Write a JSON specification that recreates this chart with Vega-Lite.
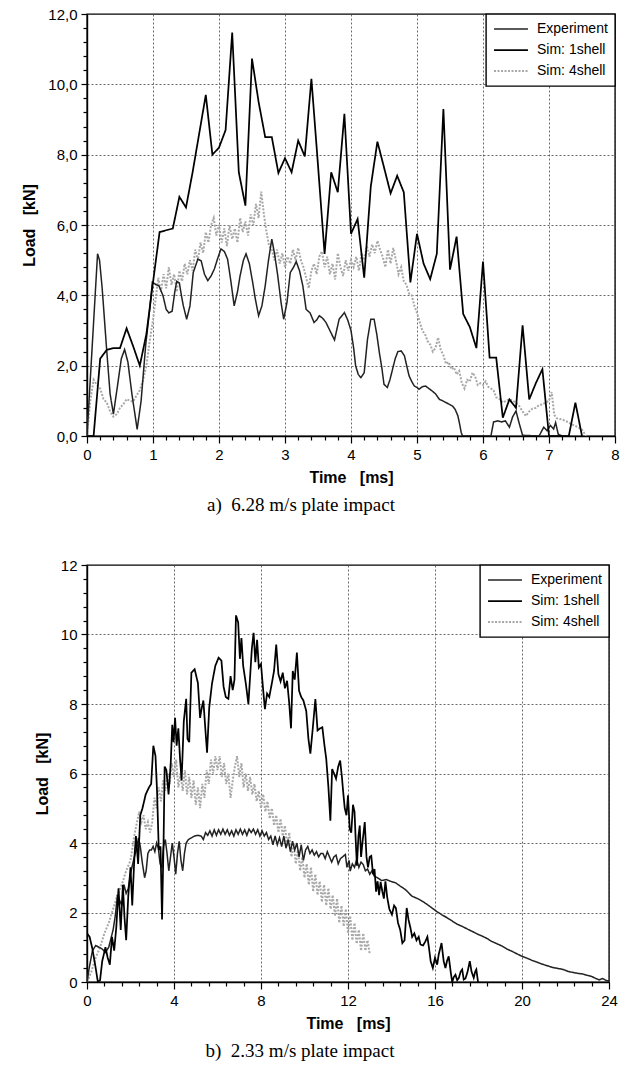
{
"$schema": "https://vega.github.io/schema/vega-lite/v6.json",
"padding": {"left": 21, "top": 6, "right": 4, "bottom": 4},
"spacing": 41,
"config": {
 "view": {"stroke": "#000", "strokeWidth": 1.4},
 "font": "Liberation Sans",
 "axis": {"domainColor": "#000", "domainWidth": 1.4, "tickColor": "#000", "tickWidth": 1.2, "labelFont": "Liberation Sans", "labelFontSize": 15, "labelColor": "#000", "titleFont": "Liberation Sans", "titleFontSize": 16, "titleFontWeight": "bold", "titleColor": "#000", "gridColor": "#444", "gridDash": [2, 2], "gridWidth": 0.8, "labelOverlap": false, "labelFlush": false, "labelBound": false},
 "legend": {"strokeColor": "#000", "strokeWidth": 1.4, "fillColor": "#fff", "padding": 7, "symbolType": "stroke", "symbolSize": 1150, "labelFontSize": 14, "labelFont": "Liberation Sans", "labelColor": "#000", "labelOffset": 8, "rowPadding": 5, "clipHeight": 16, "orient": "top-right", "offset": 0, "title": null}
},
"datasets": {
"top": [
{"s":"Sim: 4shell","t":0,"v":0},{"s":"Sim: 4shell","t":0.05,"v":1.0},{"s":"Sim: 4shell","t":0.1,"v":1.6},{"s":"Sim: 4shell","t":0.15,"v":1.45},{"s":"Sim: 4shell","t":0.2,"v":1.35},{"s":"Sim: 4shell","t":0.25,"v":1.05},{"s":"Sim: 4shell","t":0.3,"v":0.95},{"s":"Sim: 4shell","t":0.35,"v":0.7},{"s":"Sim: 4shell","t":0.4,"v":0.55},{"s":"Sim: 4shell","t":0.45,"v":0.62},{"s":"Sim: 4shell","t":0.5,"v":0.8},{"s":"Sim: 4shell","t":0.55,"v":0.9},{"s":"Sim: 4shell","t":0.6,"v":1.05},{"s":"Sim: 4shell","t":0.65,"v":1.0},{"s":"Sim: 4shell","t":0.7,"v":0.98},{"s":"Sim: 4shell","t":0.75,"v":1.15},{"s":"Sim: 4shell","t":0.8,"v":1.3},{"s":"Sim: 4shell","t":0.85,"v":1.6},{"s":"Sim: 4shell","t":0.9,"v":2.0},{"s":"Sim: 4shell","t":0.95,"v":2.7},{"s":"Sim: 4shell","t":1.0,"v":3.3},{"s":"Sim: 4shell","t":1.04,"v":3.9},{"s":"Sim: 4shell","t":1.08,"v":4.5},{"s":"Sim: 4shell","t":1.12,"v":4.1},{"s":"Sim: 4shell","t":1.16,"v":4.6},{"s":"Sim: 4shell","t":1.2,"v":4.2},{"s":"Sim: 4shell","t":1.24,"v":4.8},{"s":"Sim: 4shell","t":1.28,"v":4.3},{"s":"Sim: 4shell","t":1.32,"v":4.6},{"s":"Sim: 4shell","t":1.36,"v":4.1},{"s":"Sim: 4shell","t":1.4,"v":4.7},{"s":"Sim: 4shell","t":1.44,"v":4.4},{"s":"Sim: 4shell","t":1.48,"v":4.9},{"s":"Sim: 4shell","t":1.52,"v":4.6},{"s":"Sim: 4shell","t":1.56,"v":5.0},{"s":"Sim: 4shell","t":1.6,"v":4.7},{"s":"Sim: 4shell","t":1.64,"v":5.3},{"s":"Sim: 4shell","t":1.68,"v":5.0},{"s":"Sim: 4shell","t":1.72,"v":5.5},{"s":"Sim: 4shell","t":1.76,"v":5.2},{"s":"Sim: 4shell","t":1.8,"v":5.8},{"s":"Sim: 4shell","t":1.84,"v":5.5},{"s":"Sim: 4shell","t":1.88,"v":6.0},{"s":"Sim: 4shell","t":1.92,"v":6.2},{"s":"Sim: 4shell","t":1.96,"v":5.7},{"s":"Sim: 4shell","t":2.0,"v":6.0},{"s":"Sim: 4shell","t":2.04,"v":5.5},{"s":"Sim: 4shell","t":2.08,"v":5.9},{"s":"Sim: 4shell","t":2.12,"v":5.4},{"s":"Sim: 4shell","t":2.16,"v":6.0},{"s":"Sim: 4shell","t":2.2,"v":5.6},{"s":"Sim: 4shell","t":2.24,"v":5.9},{"s":"Sim: 4shell","t":2.28,"v":5.5},{"s":"Sim: 4shell","t":2.32,"v":6.2},{"s":"Sim: 4shell","t":2.36,"v":5.8},{"s":"Sim: 4shell","t":2.4,"v":6.1},{"s":"Sim: 4shell","t":2.44,"v":5.7},{"s":"Sim: 4shell","t":2.48,"v":6.3},{"s":"Sim: 4shell","t":2.52,"v":6.0},{"s":"Sim: 4shell","t":2.56,"v":6.6},{"s":"Sim: 4shell","t":2.6,"v":6.2},{"s":"Sim: 4shell","t":2.64,"v":6.95},{"s":"Sim: 4shell","t":2.68,"v":6.3},{"s":"Sim: 4shell","t":2.72,"v":5.8},{"s":"Sim: 4shell","t":2.76,"v":5.4},{"s":"Sim: 4shell","t":2.8,"v":5.3},{"s":"Sim: 4shell","t":2.84,"v":5.0},{"s":"Sim: 4shell","t":2.88,"v":5.3},{"s":"Sim: 4shell","t":2.92,"v":4.9},{"s":"Sim: 4shell","t":2.96,"v":5.2},{"s":"Sim: 4shell","t":3.0,"v":4.8},{"s":"Sim: 4shell","t":3.04,"v":5.1},{"s":"Sim: 4shell","t":3.08,"v":4.9},{"s":"Sim: 4shell","t":3.12,"v":5.3},{"s":"Sim: 4shell","t":3.16,"v":5.0},{"s":"Sim: 4shell","t":3.2,"v":5.35},{"s":"Sim: 4shell","t":3.24,"v":5.0},{"s":"Sim: 4shell","t":3.28,"v":4.8},{"s":"Sim: 4shell","t":3.32,"v":4.5},{"s":"Sim: 4shell","t":3.36,"v":4.2},{"s":"Sim: 4shell","t":3.4,"v":4.7},{"s":"Sim: 4shell","t":3.44,"v":4.9},{"s":"Sim: 4shell","t":3.48,"v":4.6},{"s":"Sim: 4shell","t":3.52,"v":5.1},{"s":"Sim: 4shell","t":3.56,"v":5.25},{"s":"Sim: 4shell","t":3.6,"v":4.8},{"s":"Sim: 4shell","t":3.64,"v":5.1},{"s":"Sim: 4shell","t":3.68,"v":4.6},{"s":"Sim: 4shell","t":3.72,"v":4.9},{"s":"Sim: 4shell","t":3.76,"v":4.45},{"s":"Sim: 4shell","t":3.8,"v":5.2},{"s":"Sim: 4shell","t":3.84,"v":4.8},{"s":"Sim: 4shell","t":3.88,"v":4.55},{"s":"Sim: 4shell","t":3.92,"v":5.0},{"s":"Sim: 4shell","t":3.96,"v":4.7},{"s":"Sim: 4shell","t":4.0,"v":5.0},{"s":"Sim: 4shell","t":4.04,"v":4.8},{"s":"Sim: 4shell","t":4.08,"v":5.1},{"s":"Sim: 4shell","t":4.12,"v":4.7},{"s":"Sim: 4shell","t":4.16,"v":5.2},{"s":"Sim: 4shell","t":4.2,"v":5.0},{"s":"Sim: 4shell","t":4.24,"v":5.4},{"s":"Sim: 4shell","t":4.28,"v":5.1},{"s":"Sim: 4shell","t":4.32,"v":5.45},{"s":"Sim: 4shell","t":4.36,"v":5.2},{"s":"Sim: 4shell","t":4.4,"v":5.55},{"s":"Sim: 4shell","t":4.44,"v":5.3},{"s":"Sim: 4shell","t":4.48,"v":5.1},{"s":"Sim: 4shell","t":4.52,"v":4.8},{"s":"Sim: 4shell","t":4.56,"v":5.3},{"s":"Sim: 4shell","t":4.6,"v":4.9},{"s":"Sim: 4shell","t":4.64,"v":5.35},{"s":"Sim: 4shell","t":4.68,"v":5.0},{"s":"Sim: 4shell","t":4.72,"v":4.6},{"s":"Sim: 4shell","t":4.76,"v":4.8},{"s":"Sim: 4shell","t":4.8,"v":4.4},{"s":"Sim: 4shell","t":4.84,"v":4.3},{"s":"Sim: 4shell","t":4.88,"v":4.05},{"s":"Sim: 4shell","t":4.92,"v":4.0},{"s":"Sim: 4shell","t":4.96,"v":3.7},{"s":"Sim: 4shell","t":5.0,"v":3.5},{"s":"Sim: 4shell","t":5.04,"v":3.25},{"s":"Sim: 4shell","t":5.08,"v":3.0},{"s":"Sim: 4shell","t":5.12,"v":2.9},{"s":"Sim: 4shell","t":5.16,"v":2.7},{"s":"Sim: 4shell","t":5.2,"v":2.6},{"s":"Sim: 4shell","t":5.24,"v":2.4},{"s":"Sim: 4shell","t":5.28,"v":2.5},{"s":"Sim: 4shell","t":5.32,"v":2.8},{"s":"Sim: 4shell","t":5.36,"v":2.45},{"s":"Sim: 4shell","t":5.4,"v":2.3},{"s":"Sim: 4shell","t":5.44,"v":2.05},{"s":"Sim: 4shell","t":5.48,"v":2.1},{"s":"Sim: 4shell","t":5.52,"v":1.9},{"s":"Sim: 4shell","t":5.56,"v":1.95},{"s":"Sim: 4shell","t":5.6,"v":1.75},{"s":"Sim: 4shell","t":5.64,"v":1.85},{"s":"Sim: 4shell","t":5.68,"v":1.5},{"s":"Sim: 4shell","t":5.72,"v":1.35},{"s":"Sim: 4shell","t":5.76,"v":1.6},{"s":"Sim: 4shell","t":5.8,"v":1.55},{"s":"Sim: 4shell","t":5.84,"v":1.8},{"s":"Sim: 4shell","t":5.88,"v":1.7},{"s":"Sim: 4shell","t":5.92,"v":1.45},{"s":"Sim: 4shell","t":5.96,"v":1.5},{"s":"Sim: 4shell","t":6.0,"v":1.45},{"s":"Sim: 4shell","t":6.04,"v":1.55},{"s":"Sim: 4shell","t":6.08,"v":1.4},{"s":"Sim: 4shell","t":6.12,"v":1.35},{"s":"Sim: 4shell","t":6.16,"v":1.3},{"s":"Sim: 4shell","t":6.2,"v":1.1},{"s":"Sim: 4shell","t":6.25,"v":1.05},{"s":"Sim: 4shell","t":6.3,"v":0.95},{"s":"Sim: 4shell","t":6.35,"v":1.0},{"s":"Sim: 4shell","t":6.4,"v":1.05},{"s":"Sim: 4shell","t":6.45,"v":1.0},{"s":"Sim: 4shell","t":6.5,"v":0.95},{"s":"Sim: 4shell","t":6.55,"v":0.85},{"s":"Sim: 4shell","t":6.6,"v":0.7},{"s":"Sim: 4shell","t":6.65,"v":0.57},{"s":"Sim: 4shell","t":6.7,"v":0.7},{"s":"Sim: 4shell","t":6.75,"v":0.78},{"s":"Sim: 4shell","t":6.8,"v":0.8},{"s":"Sim: 4shell","t":6.85,"v":0.88},{"s":"Sim: 4shell","t":6.9,"v":0.9},{"s":"Sim: 4shell","t":6.95,"v":0.95},{"s":"Sim: 4shell","t":7.0,"v":1.0},{"s":"Sim: 4shell","t":7.04,"v":1.25},{"s":"Sim: 4shell","t":7.08,"v":0.6},{"s":"Sim: 4shell","t":7.12,"v":0.5},{"s":"Sim: 4shell","t":7.2,"v":0.47},{"s":"Sim: 4shell","t":7.28,"v":0.4},{"s":"Sim: 4shell","t":7.36,"v":0.32},{"s":"Sim: 4shell","t":7.44,"v":0.25},{"s":"Sim: 4shell","t":7.5,"v":0.18},{"s":"Sim: 4shell","t":7.56,"v":0},
{"s":"Experiment","t":0,"v":0},{"s":"Experiment","t":0.16,"v":5.18},{"s":"Experiment","t":0.19,"v":5.0},{"s":"Experiment","t":0.23,"v":4.2},{"s":"Experiment","t":0.3,"v":2.4},{"s":"Experiment","t":0.35,"v":1.2},{"s":"Experiment","t":0.4,"v":0.62},{"s":"Experiment","t":0.46,"v":1.4},{"s":"Experiment","t":0.52,"v":2.2},{"s":"Experiment","t":0.57,"v":2.46},{"s":"Experiment","t":0.62,"v":2.1},{"s":"Experiment","t":0.68,"v":1.2},{"s":"Experiment","t":0.76,"v":0.19},{"s":"Experiment","t":0.82,"v":1.0},{"s":"Experiment","t":0.89,"v":2.6},{"s":"Experiment","t":0.95,"v":3.6},{"s":"Experiment","t":0.99,"v":4.37},{"s":"Experiment","t":1.05,"v":4.3},{"s":"Experiment","t":1.09,"v":4.27},{"s":"Experiment","t":1.15,"v":4.0},{"s":"Experiment","t":1.2,"v":3.6},{"s":"Experiment","t":1.24,"v":3.5},{"s":"Experiment","t":1.29,"v":3.55},{"s":"Experiment","t":1.33,"v":4.1},{"s":"Experiment","t":1.36,"v":4.4},{"s":"Experiment","t":1.4,"v":4.35},{"s":"Experiment","t":1.43,"v":4.0},{"s":"Experiment","t":1.46,"v":3.7},{"s":"Experiment","t":1.51,"v":3.32},{"s":"Experiment","t":1.56,"v":3.7},{"s":"Experiment","t":1.61,"v":4.65},{"s":"Experiment","t":1.68,"v":5.03},{"s":"Experiment","t":1.73,"v":4.98},{"s":"Experiment","t":1.78,"v":4.6},{"s":"Experiment","t":1.83,"v":4.42},{"s":"Experiment","t":1.88,"v":4.55},{"s":"Experiment","t":1.93,"v":4.75},{"s":"Experiment","t":1.98,"v":5.05},{"s":"Experiment","t":2.03,"v":5.32},{"s":"Experiment","t":2.08,"v":5.25},{"s":"Experiment","t":2.13,"v":5.03},{"s":"Experiment","t":2.18,"v":4.4},{"s":"Experiment","t":2.23,"v":3.7},{"s":"Experiment","t":2.28,"v":4.1},{"s":"Experiment","t":2.32,"v":4.56},{"s":"Experiment","t":2.37,"v":5.0},{"s":"Experiment","t":2.41,"v":5.18},{"s":"Experiment","t":2.46,"v":4.9},{"s":"Experiment","t":2.51,"v":4.37},{"s":"Experiment","t":2.55,"v":3.9},{"s":"Experiment","t":2.6,"v":3.42},{"s":"Experiment","t":2.65,"v":3.7},{"s":"Experiment","t":2.7,"v":4.27},{"s":"Experiment","t":2.75,"v":5.0},{"s":"Experiment","t":2.8,"v":5.6},{"s":"Experiment","t":2.84,"v":5.2},{"s":"Experiment","t":2.89,"v":4.56},{"s":"Experiment","t":2.94,"v":3.8},{"s":"Experiment","t":2.98,"v":3.32},{"s":"Experiment","t":3.03,"v":3.8},{"s":"Experiment","t":3.08,"v":4.65},{"s":"Experiment","t":3.13,"v":4.8},{"s":"Experiment","t":3.17,"v":4.96},{"s":"Experiment","t":3.22,"v":4.7},{"s":"Experiment","t":3.27,"v":4.27},{"s":"Experiment","t":3.32,"v":3.6},{"s":"Experiment","t":3.38,"v":3.5},{"s":"Experiment","t":3.44,"v":3.23},{"s":"Experiment","t":3.48,"v":3.3},{"s":"Experiment","t":3.52,"v":3.42},{"s":"Experiment","t":3.57,"v":3.35},{"s":"Experiment","t":3.62,"v":3.23},{"s":"Experiment","t":3.68,"v":3.0},{"s":"Experiment","t":3.75,"v":2.73},{"s":"Experiment","t":3.82,"v":3.32},{"s":"Experiment","t":3.9,"v":3.51},{"s":"Experiment","t":3.95,"v":3.3},{"s":"Experiment","t":4.0,"v":3.0},{"s":"Experiment","t":4.04,"v":2.5},{"s":"Experiment","t":4.07,"v":2.0},{"s":"Experiment","t":4.11,"v":1.75},{"s":"Experiment","t":4.15,"v":1.66},{"s":"Experiment","t":4.2,"v":1.8},{"s":"Experiment","t":4.25,"v":2.75},{"s":"Experiment","t":4.3,"v":3.32},{"s":"Experiment","t":4.35,"v":3.32},{"s":"Experiment","t":4.39,"v":2.9},{"s":"Experiment","t":4.43,"v":2.37},{"s":"Experiment","t":4.47,"v":1.9},{"s":"Experiment","t":4.5,"v":1.47},{"s":"Experiment","t":4.55,"v":1.38},{"s":"Experiment","t":4.59,"v":1.6},{"s":"Experiment","t":4.63,"v":1.9},{"s":"Experiment","t":4.67,"v":2.2},{"s":"Experiment","t":4.71,"v":2.4},{"s":"Experiment","t":4.76,"v":2.42},{"s":"Experiment","t":4.81,"v":2.28},{"s":"Experiment","t":4.85,"v":1.95},{"s":"Experiment","t":4.88,"v":1.71},{"s":"Experiment","t":4.92,"v":1.55},{"s":"Experiment","t":4.96,"v":1.42},{"s":"Experiment","t":5.0,"v":1.38},{"s":"Experiment","t":5.03,"v":1.33},{"s":"Experiment","t":5.08,"v":1.4},{"s":"Experiment","t":5.13,"v":1.42},{"s":"Experiment","t":5.18,"v":1.35},{"s":"Experiment","t":5.23,"v":1.28},{"s":"Experiment","t":5.28,"v":1.2},{"s":"Experiment","t":5.34,"v":1.04},{"s":"Experiment","t":5.39,"v":1.0},{"s":"Experiment","t":5.44,"v":0.95},{"s":"Experiment","t":5.49,"v":0.9},{"s":"Experiment","t":5.54,"v":0.85},{"s":"Experiment","t":5.58,"v":0.75},{"s":"Experiment","t":5.62,"v":0.57},{"s":"Experiment","t":5.65,"v":0.3},{"s":"Experiment","t":5.67,"v":0.1},{"s":"Experiment","t":5.69,"v":0},{"s":"Experiment","t":6.12,"v":0},{"s":"Experiment","t":6.16,"v":0.4},{"s":"Experiment","t":6.22,"v":0.43},{"s":"Experiment","t":6.28,"v":0.4},{"s":"Experiment","t":6.34,"v":0.43},{"s":"Experiment","t":6.4,"v":0.25},{"s":"Experiment","t":6.45,"v":0.55},{"s":"Experiment","t":6.5,"v":0.71},{"s":"Experiment","t":6.55,"v":0.35},{"s":"Experiment","t":6.6,"v":0.02},{"s":"Experiment","t":6.85,"v":0},{"s":"Experiment","t":6.92,"v":0.25},{"s":"Experiment","t":6.97,"v":0.15},{"s":"Experiment","t":7.02,"v":0.3},{"s":"Experiment","t":7.07,"v":0.2},{"s":"Experiment","t":7.1,"v":0.38},{"s":"Experiment","t":7.14,"v":0.05},{"s":"Experiment","t":7.2,"v":0},
{"s":"Sim: 1shell","t":0,"v":0},{"s":"Sim: 1shell","t":0.1,"v":0},{"s":"Sim: 1shell","t":0.2,"v":2.2},{"s":"Sim: 1shell","t":0.3,"v":2.45},{"s":"Sim: 1shell","t":0.4,"v":2.5},{"s":"Sim: 1shell","t":0.5,"v":2.5},{"s":"Sim: 1shell","t":0.6,"v":3.06},{"s":"Sim: 1shell","t":0.7,"v":2.55},{"s":"Sim: 1shell","t":0.8,"v":2.0},{"s":"Sim: 1shell","t":0.9,"v":2.9},{"s":"Sim: 1shell","t":1.0,"v":4.37},{"s":"Sim: 1shell","t":1.1,"v":5.8},{"s":"Sim: 1shell","t":1.2,"v":5.85},{"s":"Sim: 1shell","t":1.3,"v":5.9},{"s":"Sim: 1shell","t":1.4,"v":6.8},{"s":"Sim: 1shell","t":1.5,"v":6.5},{"s":"Sim: 1shell","t":1.6,"v":7.5},{"s":"Sim: 1shell","t":1.7,"v":8.6},{"s":"Sim: 1shell","t":1.8,"v":9.7},{"s":"Sim: 1shell","t":1.9,"v":8.0},{"s":"Sim: 1shell","t":2.0,"v":8.2},{"s":"Sim: 1shell","t":2.1,"v":8.7},{"s":"Sim: 1shell","t":2.2,"v":11.47},{"s":"Sim: 1shell","t":2.3,"v":7.5},{"s":"Sim: 1shell","t":2.4,"v":6.55},{"s":"Sim: 1shell","t":2.5,"v":10.73},{"s":"Sim: 1shell","t":2.6,"v":9.5},{"s":"Sim: 1shell","t":2.7,"v":8.5},{"s":"Sim: 1shell","t":2.8,"v":8.5},{"s":"Sim: 1shell","t":2.9,"v":7.48},{"s":"Sim: 1shell","t":3.0,"v":7.9},{"s":"Sim: 1shell","t":3.1,"v":7.5},{"s":"Sim: 1shell","t":3.2,"v":8.4},{"s":"Sim: 1shell","t":3.3,"v":7.95},{"s":"Sim: 1shell","t":3.4,"v":10.16},{"s":"Sim: 1shell","t":3.5,"v":7.7},{"s":"Sim: 1shell","t":3.6,"v":5.18},{"s":"Sim: 1shell","t":3.7,"v":7.5},{"s":"Sim: 1shell","t":3.8,"v":6.93},{"s":"Sim: 1shell","t":3.9,"v":9.16},{"s":"Sim: 1shell","t":4.0,"v":5.75},{"s":"Sim: 1shell","t":4.1,"v":6.17},{"s":"Sim: 1shell","t":4.2,"v":4.5},{"s":"Sim: 1shell","t":4.3,"v":7.1},{"s":"Sim: 1shell","t":4.4,"v":8.37},{"s":"Sim: 1shell","t":4.5,"v":7.64},{"s":"Sim: 1shell","t":4.6,"v":6.9},{"s":"Sim: 1shell","t":4.7,"v":7.4},{"s":"Sim: 1shell","t":4.8,"v":6.93},{"s":"Sim: 1shell","t":4.9,"v":4.37},{"s":"Sim: 1shell","t":5.0,"v":5.75},{"s":"Sim: 1shell","t":5.1,"v":4.9},{"s":"Sim: 1shell","t":5.2,"v":4.46},{"s":"Sim: 1shell","t":5.3,"v":5.18},{"s":"Sim: 1shell","t":5.4,"v":9.3},{"s":"Sim: 1shell","t":5.5,"v":4.73},{"s":"Sim: 1shell","t":5.6,"v":5.67},{"s":"Sim: 1shell","t":5.7,"v":3.47},{"s":"Sim: 1shell","t":5.8,"v":3.1},{"s":"Sim: 1shell","t":5.9,"v":2.5},{"s":"Sim: 1shell","t":6.0,"v":4.96},{"s":"Sim: 1shell","t":6.1,"v":2.23},{"s":"Sim: 1shell","t":6.2,"v":2.23},{"s":"Sim: 1shell","t":6.3,"v":0.52},{"s":"Sim: 1shell","t":6.4,"v":1.04},{"s":"Sim: 1shell","t":6.5,"v":0.8},{"s":"Sim: 1shell","t":6.6,"v":3.15},{"s":"Sim: 1shell","t":6.7,"v":1.04},{"s":"Sim: 1shell","t":6.8,"v":1.5},{"s":"Sim: 1shell","t":6.9,"v":1.9},{"s":"Sim: 1shell","t":7.0,"v":0},{"s":"Sim: 1shell","t":7.3,"v":0},{"s":"Sim: 1shell","t":7.4,"v":0.95},{"s":"Sim: 1shell","t":7.5,"v":0}
],
"bot": [
{"s":"Sim: 4shell","t":0,"v":0},{"s":"Sim: 4shell","t":0.2,"v":0.3},{"s":"Sim: 4shell","t":0.4,"v":0.7},{"s":"Sim: 4shell","t":0.6,"v":1.0},{"s":"Sim: 4shell","t":0.8,"v":1.4},{"s":"Sim: 4shell","t":1.0,"v":1.7},{"s":"Sim: 4shell","t":1.2,"v":2.1},{"s":"Sim: 4shell","t":1.4,"v":2.5},{"s":"Sim: 4shell","t":1.6,"v":2.8},{"s":"Sim: 4shell","t":1.8,"v":3.2},{"s":"Sim: 4shell","t":2.0,"v":3.5},{"s":"Sim: 4shell","t":2.1,"v":3.9},{"s":"Sim: 4shell","t":2.2,"v":4.3},{"s":"Sim: 4shell","t":2.3,"v":4.6},{"s":"Sim: 4shell","t":2.4,"v":4.9},{"s":"Sim: 4shell","t":2.5,"v":4.6},{"s":"Sim: 4shell","t":2.6,"v":4.8},{"s":"Sim: 4shell","t":2.7,"v":4.4},{"s":"Sim: 4shell","t":2.8,"v":4.6},{"s":"Sim: 4shell","t":2.9,"v":4.3},{"s":"Sim: 4shell","t":3.0,"v":4.6},{"s":"Sim: 4shell","t":3.1,"v":5.3},{"s":"Sim: 4shell","t":3.2,"v":5.0},{"s":"Sim: 4shell","t":3.3,"v":5.6},{"s":"Sim: 4shell","t":3.4,"v":5.2},{"s":"Sim: 4shell","t":3.5,"v":5.8},{"s":"Sim: 4shell","t":3.6,"v":5.5},{"s":"Sim: 4shell","t":3.7,"v":6.0},{"s":"Sim: 4shell","t":3.8,"v":5.7},{"s":"Sim: 4shell","t":3.9,"v":6.3},{"s":"Sim: 4shell","t":4.0,"v":5.9},{"s":"Sim: 4shell","t":4.1,"v":6.4},{"s":"Sim: 4shell","t":4.2,"v":5.6},{"s":"Sim: 4shell","t":4.3,"v":6.0},{"s":"Sim: 4shell","t":4.4,"v":5.5},{"s":"Sim: 4shell","t":4.5,"v":6.1},{"s":"Sim: 4shell","t":4.6,"v":5.4},{"s":"Sim: 4shell","t":4.7,"v":5.9},{"s":"Sim: 4shell","t":4.8,"v":5.3},{"s":"Sim: 4shell","t":4.9,"v":5.8},{"s":"Sim: 4shell","t":5.0,"v":5.1},{"s":"Sim: 4shell","t":5.1,"v":5.6},{"s":"Sim: 4shell","t":5.2,"v":5.0},{"s":"Sim: 4shell","t":5.3,"v":5.7},{"s":"Sim: 4shell","t":5.4,"v":5.3},{"s":"Sim: 4shell","t":5.5,"v":6.1},{"s":"Sim: 4shell","t":5.6,"v":5.7},{"s":"Sim: 4shell","t":5.7,"v":6.4},{"s":"Sim: 4shell","t":5.8,"v":6.0},{"s":"Sim: 4shell","t":5.9,"v":6.5},{"s":"Sim: 4shell","t":6.0,"v":6.1},{"s":"Sim: 4shell","t":6.1,"v":6.5},{"s":"Sim: 4shell","t":6.2,"v":5.9},{"s":"Sim: 4shell","t":6.3,"v":6.3},{"s":"Sim: 4shell","t":6.4,"v":5.7},{"s":"Sim: 4shell","t":6.5,"v":6.0},{"s":"Sim: 4shell","t":6.6,"v":5.3},{"s":"Sim: 4shell","t":6.7,"v":5.8},{"s":"Sim: 4shell","t":6.8,"v":6.2},{"s":"Sim: 4shell","t":6.9,"v":6.5},{"s":"Sim: 4shell","t":7.0,"v":5.9},{"s":"Sim: 4shell","t":7.1,"v":6.3},{"s":"Sim: 4shell","t":7.2,"v":5.6},{"s":"Sim: 4shell","t":7.3,"v":6.0},{"s":"Sim: 4shell","t":7.4,"v":5.5},{"s":"Sim: 4shell","t":7.5,"v":5.9},{"s":"Sim: 4shell","t":7.6,"v":5.4},{"s":"Sim: 4shell","t":7.7,"v":5.7},{"s":"Sim: 4shell","t":7.8,"v":5.2},{"s":"Sim: 4shell","t":7.9,"v":5.5},{"s":"Sim: 4shell","t":8.0,"v":5.0},{"s":"Sim: 4shell","t":8.1,"v":5.4},{"s":"Sim: 4shell","t":8.2,"v":4.9},{"s":"Sim: 4shell","t":8.3,"v":5.2},{"s":"Sim: 4shell","t":8.4,"v":4.7},{"s":"Sim: 4shell","t":8.5,"v":5.0},{"s":"Sim: 4shell","t":8.6,"v":4.5},{"s":"Sim: 4shell","t":8.7,"v":4.8},{"s":"Sim: 4shell","t":8.8,"v":4.3},{"s":"Sim: 4shell","t":8.9,"v":4.7},{"s":"Sim: 4shell","t":9.0,"v":4.2},{"s":"Sim: 4shell","t":9.1,"v":4.5},{"s":"Sim: 4shell","t":9.2,"v":3.9},{"s":"Sim: 4shell","t":9.3,"v":4.3},{"s":"Sim: 4shell","t":9.4,"v":3.6},{"s":"Sim: 4shell","t":9.5,"v":4.0},{"s":"Sim: 4shell","t":9.6,"v":3.4},{"s":"Sim: 4shell","t":9.7,"v":3.8},{"s":"Sim: 4shell","t":9.8,"v":3.2},{"s":"Sim: 4shell","t":9.9,"v":3.6},{"s":"Sim: 4shell","t":10.0,"v":3.0},{"s":"Sim: 4shell","t":10.1,"v":3.4},{"s":"Sim: 4shell","t":10.2,"v":2.8},{"s":"Sim: 4shell","t":10.3,"v":3.3},{"s":"Sim: 4shell","t":10.4,"v":2.6},{"s":"Sim: 4shell","t":10.5,"v":3.1},{"s":"Sim: 4shell","t":10.6,"v":2.5},{"s":"Sim: 4shell","t":10.7,"v":2.9},{"s":"Sim: 4shell","t":10.8,"v":2.3},{"s":"Sim: 4shell","t":10.9,"v":2.8},{"s":"Sim: 4shell","t":11.0,"v":2.2},{"s":"Sim: 4shell","t":11.1,"v":2.7},{"s":"Sim: 4shell","t":11.2,"v":2.1},{"s":"Sim: 4shell","t":11.3,"v":2.5},{"s":"Sim: 4shell","t":11.4,"v":1.9},{"s":"Sim: 4shell","t":11.5,"v":2.4},{"s":"Sim: 4shell","t":11.6,"v":1.7},{"s":"Sim: 4shell","t":11.7,"v":2.2},{"s":"Sim: 4shell","t":11.8,"v":1.6},{"s":"Sim: 4shell","t":11.9,"v":2.1},{"s":"Sim: 4shell","t":12.0,"v":1.4},{"s":"Sim: 4shell","t":12.1,"v":1.9},{"s":"Sim: 4shell","t":12.2,"v":1.2},{"s":"Sim: 4shell","t":12.3,"v":1.7},{"s":"Sim: 4shell","t":12.4,"v":1.1},{"s":"Sim: 4shell","t":12.5,"v":1.5},{"s":"Sim: 4shell","t":12.6,"v":0.9},{"s":"Sim: 4shell","t":12.7,"v":1.4},{"s":"Sim: 4shell","t":12.8,"v":0.9},{"s":"Sim: 4shell","t":12.9,"v":1.2},{"s":"Sim: 4shell","t":13.0,"v":0.8},
{"s":"Experiment","t":0,"v":0},{"s":"Experiment","t":0.1,"v":0.4},{"s":"Experiment","t":0.25,"v":0.9},{"s":"Experiment","t":0.4,"v":1.05},{"s":"Experiment","t":0.55,"v":1.0},{"s":"Experiment","t":0.7,"v":0.95},{"s":"Experiment","t":0.85,"v":0.85},{"s":"Experiment","t":1.0,"v":1.0},{"s":"Experiment","t":1.1,"v":1.25},{"s":"Experiment","t":1.2,"v":1.5},{"s":"Experiment","t":1.3,"v":1.9},{"s":"Experiment","t":1.4,"v":2.5},{"s":"Experiment","t":1.5,"v":2.35},{"s":"Experiment","t":1.6,"v":2.2},{"s":"Experiment","t":1.7,"v":2.8},{"s":"Experiment","t":1.8,"v":2.55},{"s":"Experiment","t":1.9,"v":2.7},{"s":"Experiment","t":2.0,"v":3.1},{"s":"Experiment","t":2.1,"v":3.4},{"s":"Experiment","t":2.2,"v":3.65},{"s":"Experiment","t":2.3,"v":3.9},{"s":"Experiment","t":2.37,"v":4.15},{"s":"Experiment","t":2.45,"v":3.9},{"s":"Experiment","t":2.55,"v":3.4},{"s":"Experiment","t":2.65,"v":3.0},{"s":"Experiment","t":2.72,"v":3.2},{"s":"Experiment","t":2.8,"v":3.7},{"s":"Experiment","t":2.88,"v":3.8},{"s":"Experiment","t":2.96,"v":3.8},{"s":"Experiment","t":3.04,"v":3.9},{"s":"Experiment","t":3.12,"v":3.75},{"s":"Experiment","t":3.2,"v":4.0},{"s":"Experiment","t":3.28,"v":3.85},{"s":"Experiment","t":3.36,"v":3.4},{"s":"Experiment","t":3.44,"v":3.3},{"s":"Experiment","t":3.52,"v":3.9},{"s":"Experiment","t":3.6,"v":4.1},{"s":"Experiment","t":3.68,"v":3.7},{"s":"Experiment","t":3.76,"v":3.2},{"s":"Experiment","t":3.84,"v":3.6},{"s":"Experiment","t":3.92,"v":4.0},{"s":"Experiment","t":4.0,"v":3.6},{"s":"Experiment","t":4.08,"v":3.1},{"s":"Experiment","t":4.16,"v":3.7},{"s":"Experiment","t":4.24,"v":4.05},{"s":"Experiment","t":4.32,"v":3.5},{"s":"Experiment","t":4.4,"v":3.2},{"s":"Experiment","t":4.48,"v":3.7},{"s":"Experiment","t":4.56,"v":4.0},{"s":"Experiment","t":4.66,"v":4.1},{"s":"Experiment","t":4.8,"v":4.15},{"s":"Experiment","t":4.95,"v":4.2},{"s":"Experiment","t":5.1,"v":4.22},{"s":"Experiment","t":5.25,"v":4.2},{"s":"Experiment","t":5.35,"v":4.1},{"s":"Experiment","t":5.45,"v":4.3},{"s":"Experiment","t":5.55,"v":4.22},{"s":"Experiment","t":5.65,"v":4.35},{"s":"Experiment","t":5.75,"v":4.2},{"s":"Experiment","t":5.85,"v":4.38},{"s":"Experiment","t":5.95,"v":4.22},{"s":"Experiment","t":6.05,"v":4.38},{"s":"Experiment","t":6.15,"v":4.25},{"s":"Experiment","t":6.25,"v":4.4},{"s":"Experiment","t":6.35,"v":4.25},{"s":"Experiment","t":6.45,"v":4.38},{"s":"Experiment","t":6.55,"v":4.22},{"s":"Experiment","t":6.65,"v":4.35},{"s":"Experiment","t":6.75,"v":4.2},{"s":"Experiment","t":6.85,"v":4.38},{"s":"Experiment","t":6.95,"v":4.25},{"s":"Experiment","t":7.05,"v":4.4},{"s":"Experiment","t":7.15,"v":4.25},{"s":"Experiment","t":7.25,"v":4.38},{"s":"Experiment","t":7.35,"v":4.22},{"s":"Experiment","t":7.45,"v":4.4},{"s":"Experiment","t":7.55,"v":4.3},{"s":"Experiment","t":7.65,"v":4.4},{"s":"Experiment","t":7.75,"v":4.25},{"s":"Experiment","t":7.85,"v":4.38},{"s":"Experiment","t":7.95,"v":4.2},{"s":"Experiment","t":8.05,"v":4.35},{"s":"Experiment","t":8.15,"v":4.2},{"s":"Experiment","t":8.25,"v":4.3},{"s":"Experiment","t":8.35,"v":4.1},{"s":"Experiment","t":8.45,"v":4.2},{"s":"Experiment","t":8.55,"v":3.95},{"s":"Experiment","t":8.65,"v":4.2},{"s":"Experiment","t":8.75,"v":3.95},{"s":"Experiment","t":8.85,"v":4.15},{"s":"Experiment","t":8.95,"v":3.9},{"s":"Experiment","t":9.05,"v":4.2},{"s":"Experiment","t":9.15,"v":3.85},{"s":"Experiment","t":9.25,"v":4.1},{"s":"Experiment","t":9.35,"v":3.75},{"s":"Experiment","t":9.45,"v":4.05},{"s":"Experiment","t":9.55,"v":3.8},{"s":"Experiment","t":9.65,"v":4.0},{"s":"Experiment","t":9.75,"v":3.6},{"s":"Experiment","t":9.85,"v":3.95},{"s":"Experiment","t":9.95,"v":3.5},{"s":"Experiment","t":10.05,"v":3.8},{"s":"Experiment","t":10.15,"v":3.9},{"s":"Experiment","t":10.25,"v":3.7},{"s":"Experiment","t":10.35,"v":3.8},{"s":"Experiment","t":10.45,"v":3.65},{"s":"Experiment","t":10.55,"v":3.75},{"s":"Experiment","t":10.65,"v":3.6},{"s":"Experiment","t":10.75,"v":3.7},{"s":"Experiment","t":10.85,"v":3.7},{"s":"Experiment","t":10.95,"v":3.55},{"s":"Experiment","t":11.05,"v":3.75},{"s":"Experiment","t":11.15,"v":3.6},{"s":"Experiment","t":11.25,"v":3.45},{"s":"Experiment","t":11.35,"v":3.6},{"s":"Experiment","t":11.45,"v":3.65},{"s":"Experiment","t":11.55,"v":3.4},{"s":"Experiment","t":11.65,"v":3.55},{"s":"Experiment","t":11.75,"v":3.6},{"s":"Experiment","t":11.88,"v":3.67},{"s":"Experiment","t":11.95,"v":3.3},{"s":"Experiment","t":12.05,"v":3.5},{"s":"Experiment","t":12.1,"v":3.19},{"s":"Experiment","t":12.2,"v":3.4},{"s":"Experiment","t":12.3,"v":3.3},{"s":"Experiment","t":12.4,"v":3.53},{"s":"Experiment","t":12.5,"v":3.3},{"s":"Experiment","t":12.6,"v":3.45},{"s":"Experiment","t":12.7,"v":3.38},{"s":"Experiment","t":12.8,"v":3.2},{"s":"Experiment","t":12.9,"v":3.25},{"s":"Experiment","t":13.0,"v":3.1},{"s":"Experiment","t":13.1,"v":3.2},{"s":"Experiment","t":13.2,"v":3.05},{"s":"Experiment","t":13.35,"v":3.0},{"s":"Experiment","t":13.55,"v":2.92},{"s":"Experiment","t":13.75,"v":2.95},{"s":"Experiment","t":13.95,"v":2.9},{"s":"Experiment","t":14.2,"v":2.85},{"s":"Experiment","t":14.4,"v":2.76},{"s":"Experiment","t":14.64,"v":2.66},{"s":"Experiment","t":14.94,"v":2.47},{"s":"Experiment","t":15.2,"v":2.4},{"s":"Experiment","t":15.4,"v":2.33},{"s":"Experiment","t":15.6,"v":2.25},{"s":"Experiment","t":15.86,"v":2.13},{"s":"Experiment","t":16.1,"v":2.02},{"s":"Experiment","t":16.3,"v":1.94},{"s":"Experiment","t":16.55,"v":1.85},{"s":"Experiment","t":16.8,"v":1.75},{"s":"Experiment","t":17.0,"v":1.67},{"s":"Experiment","t":17.25,"v":1.6},{"s":"Experiment","t":17.5,"v":1.52},{"s":"Experiment","t":17.7,"v":1.46},{"s":"Experiment","t":17.95,"v":1.38},{"s":"Experiment","t":18.17,"v":1.32},{"s":"Experiment","t":18.4,"v":1.25},{"s":"Experiment","t":18.6,"v":1.17},{"s":"Experiment","t":18.85,"v":1.1},{"s":"Experiment","t":19.1,"v":1.03},{"s":"Experiment","t":19.3,"v":0.95},{"s":"Experiment","t":19.55,"v":0.88},{"s":"Experiment","t":19.8,"v":0.8},{"s":"Experiment","t":20.0,"v":0.74},{"s":"Experiment","t":20.25,"v":0.68},{"s":"Experiment","t":20.47,"v":0.62},{"s":"Experiment","t":20.7,"v":0.57},{"s":"Experiment","t":20.9,"v":0.52},{"s":"Experiment","t":21.15,"v":0.47},{"s":"Experiment","t":21.4,"v":0.42},{"s":"Experiment","t":21.65,"v":0.39},{"s":"Experiment","t":21.9,"v":0.36},{"s":"Experiment","t":22.1,"v":0.31},{"s":"Experiment","t":22.3,"v":0.28},{"s":"Experiment","t":22.55,"v":0.25},{"s":"Experiment","t":22.8,"v":0.23},{"s":"Experiment","t":23.0,"v":0.19},{"s":"Experiment","t":23.2,"v":0.16},{"s":"Experiment","t":23.4,"v":0.1},{"s":"Experiment","t":23.55,"v":0.06},{"s":"Experiment","t":23.7,"v":0.1},{"s":"Experiment","t":23.85,"v":0.05},{"s":"Experiment","t":24.0,"v":0.03},
{"s":"Sim: 1shell","t":0,"v":1.4},{"s":"Sim: 1shell","t":0.12,"v":1.3},{"s":"Sim: 1shell","t":0.25,"v":0.95},{"s":"Sim: 1shell","t":0.4,"v":0.4},{"s":"Sim: 1shell","t":0.5,"v":0},{"s":"Sim: 1shell","t":0.6,"v":0.05},{"s":"Sim: 1shell","t":0.7,"v":0.6},{"s":"Sim: 1shell","t":0.85,"v":1.0},{"s":"Sim: 1shell","t":0.95,"v":0.7},{"s":"Sim: 1shell","t":1.05,"v":0.5},{"s":"Sim: 1shell","t":1.15,"v":1.3},{"s":"Sim: 1shell","t":1.25,"v":0.9},{"s":"Sim: 1shell","t":1.35,"v":1.6},{"s":"Sim: 1shell","t":1.45,"v":2.7},{"s":"Sim: 1shell","t":1.55,"v":1.5},{"s":"Sim: 1shell","t":1.65,"v":2.8},{"s":"Sim: 1shell","t":1.72,"v":1.9},{"s":"Sim: 1shell","t":1.8,"v":1.2},{"s":"Sim: 1shell","t":1.9,"v":2.5},{"s":"Sim: 1shell","t":2.0,"v":3.3},{"s":"Sim: 1shell","t":2.08,"v":2.2},{"s":"Sim: 1shell","t":2.18,"v":3.6},{"s":"Sim: 1shell","t":2.25,"v":4.2},{"s":"Sim: 1shell","t":2.35,"v":3.4},{"s":"Sim: 1shell","t":2.45,"v":4.8},{"s":"Sim: 1shell","t":2.55,"v":5.0},{"s":"Sim: 1shell","t":2.7,"v":5.4},{"s":"Sim: 1shell","t":2.85,"v":5.6},{"s":"Sim: 1shell","t":2.95,"v":5.7},{"s":"Sim: 1shell","t":3.05,"v":6.8},{"s":"Sim: 1shell","t":3.15,"v":6.5},{"s":"Sim: 1shell","t":3.22,"v":5.5},{"s":"Sim: 1shell","t":3.3,"v":3.8},{"s":"Sim: 1shell","t":3.38,"v":3.9},{"s":"Sim: 1shell","t":3.45,"v":1.8},{"s":"Sim: 1shell","t":3.52,"v":4.0},{"s":"Sim: 1shell","t":3.57,"v":6.2},{"s":"Sim: 1shell","t":3.65,"v":6.1},{"s":"Sim: 1shell","t":3.75,"v":5.4},{"s":"Sim: 1shell","t":3.85,"v":6.3},{"s":"Sim: 1shell","t":3.92,"v":7.4},{"s":"Sim: 1shell","t":3.98,"v":6.9},{"s":"Sim: 1shell","t":4.05,"v":7.6},{"s":"Sim: 1shell","t":4.12,"v":6.8},{"s":"Sim: 1shell","t":4.2,"v":7.3},{"s":"Sim: 1shell","t":4.28,"v":6.4},{"s":"Sim: 1shell","t":4.35,"v":5.8},{"s":"Sim: 1shell","t":4.45,"v":7.5},{"s":"Sim: 1shell","t":4.56,"v":8.15},{"s":"Sim: 1shell","t":4.62,"v":7.0},{"s":"Sim: 1shell","t":4.7,"v":6.9},{"s":"Sim: 1shell","t":4.8,"v":8.9},{"s":"Sim: 1shell","t":4.95,"v":9.0},{"s":"Sim: 1shell","t":5.1,"v":8.6},{"s":"Sim: 1shell","t":5.2,"v":7.6},{"s":"Sim: 1shell","t":5.28,"v":7.9},{"s":"Sim: 1shell","t":5.35,"v":8.1},{"s":"Sim: 1shell","t":5.45,"v":7.2},{"s":"Sim: 1shell","t":5.52,"v":6.6},{"s":"Sim: 1shell","t":5.62,"v":7.9},{"s":"Sim: 1shell","t":5.75,"v":8.6},{"s":"Sim: 1shell","t":5.9,"v":9.1},{"s":"Sim: 1shell","t":6.05,"v":9.33},{"s":"Sim: 1shell","t":6.18,"v":9.25},{"s":"Sim: 1shell","t":6.28,"v":8.5},{"s":"Sim: 1shell","t":6.38,"v":8.2},{"s":"Sim: 1shell","t":6.5,"v":8.15},{"s":"Sim: 1shell","t":6.6,"v":8.8},{"s":"Sim: 1shell","t":6.7,"v":8.4},{"s":"Sim: 1shell","t":6.78,"v":8.7},{"s":"Sim: 1shell","t":6.85,"v":10.55},{"s":"Sim: 1shell","t":6.95,"v":10.35},{"s":"Sim: 1shell","t":7.03,"v":9.3},{"s":"Sim: 1shell","t":7.1,"v":9.9},{"s":"Sim: 1shell","t":7.18,"v":9.1},{"s":"Sim: 1shell","t":7.3,"v":8.6},{"s":"Sim: 1shell","t":7.42,"v":8.0},{"s":"Sim: 1shell","t":7.5,"v":8.8},{"s":"Sim: 1shell","t":7.58,"v":9.6},{"s":"Sim: 1shell","t":7.66,"v":10.05},{"s":"Sim: 1shell","t":7.74,"v":9.2},{"s":"Sim: 1shell","t":7.82,"v":9.85},{"s":"Sim: 1shell","t":7.9,"v":9.05},{"s":"Sim: 1shell","t":8.0,"v":9.15},{"s":"Sim: 1shell","t":8.1,"v":8.4},{"s":"Sim: 1shell","t":8.18,"v":7.85},{"s":"Sim: 1shell","t":8.28,"v":8.3},{"s":"Sim: 1shell","t":8.38,"v":8.2},{"s":"Sim: 1shell","t":8.5,"v":8.6},{"s":"Sim: 1shell","t":8.6,"v":8.95},{"s":"Sim: 1shell","t":8.7,"v":9.71},{"s":"Sim: 1shell","t":8.8,"v":8.86},{"s":"Sim: 1shell","t":8.9,"v":8.65},{"s":"Sim: 1shell","t":9.0,"v":8.9},{"s":"Sim: 1shell","t":9.1,"v":8.45},{"s":"Sim: 1shell","t":9.2,"v":8.67},{"s":"Sim: 1shell","t":9.3,"v":8.0},{"s":"Sim: 1shell","t":9.38,"v":7.3},{"s":"Sim: 1shell","t":9.46,"v":8.95},{"s":"Sim: 1shell","t":9.55,"v":8.7},{"s":"Sim: 1shell","t":9.65,"v":9.48},{"s":"Sim: 1shell","t":9.75,"v":8.38},{"s":"Sim: 1shell","t":9.85,"v":8.2},{"s":"Sim: 1shell","t":9.95,"v":8.1},{"s":"Sim: 1shell","t":10.08,"v":7.8},{"s":"Sim: 1shell","t":10.18,"v":7.0},{"s":"Sim: 1shell","t":10.27,"v":6.57},{"s":"Sim: 1shell","t":10.38,"v":7.3},{"s":"Sim: 1shell","t":10.5,"v":8.14},{"s":"Sim: 1shell","t":10.6,"v":7.24},{"s":"Sim: 1shell","t":10.72,"v":7.3},{"s":"Sim: 1shell","t":10.82,"v":7.33},{"s":"Sim: 1shell","t":10.92,"v":6.8},{"s":"Sim: 1shell","t":11.0,"v":6.42},{"s":"Sim: 1shell","t":11.1,"v":5.6},{"s":"Sim: 1shell","t":11.19,"v":4.64},{"s":"Sim: 1shell","t":11.27,"v":6.13},{"s":"Sim: 1shell","t":11.36,"v":6.0},{"s":"Sim: 1shell","t":11.45,"v":5.85},{"s":"Sim: 1shell","t":11.55,"v":6.2},{"s":"Sim: 1shell","t":11.64,"v":6.37},{"s":"Sim: 1shell","t":11.72,"v":5.9},{"s":"Sim: 1shell","t":11.78,"v":5.46},{"s":"Sim: 1shell","t":11.85,"v":5.0},{"s":"Sim: 1shell","t":11.93,"v":4.8},{"s":"Sim: 1shell","t":12.0,"v":5.37},{"s":"Sim: 1shell","t":12.08,"v":4.4},{"s":"Sim: 1shell","t":12.15,"v":4.3},{"s":"Sim: 1shell","t":12.23,"v":5.1},{"s":"Sim: 1shell","t":12.3,"v":4.9},{"s":"Sim: 1shell","t":12.36,"v":4.0},{"s":"Sim: 1shell","t":12.41,"v":3.35},{"s":"Sim: 1shell","t":12.48,"v":4.2},{"s":"Sim: 1shell","t":12.54,"v":4.5},{"s":"Sim: 1shell","t":12.6,"v":3.6},{"s":"Sim: 1shell","t":12.68,"v":4.1},{"s":"Sim: 1shell","t":12.77,"v":4.6},{"s":"Sim: 1shell","t":12.85,"v":3.6},{"s":"Sim: 1shell","t":12.92,"v":3.3},{"s":"Sim: 1shell","t":13.0,"v":3.6},{"s":"Sim: 1shell","t":13.07,"v":3.63},{"s":"Sim: 1shell","t":13.15,"v":3.1},{"s":"Sim: 1shell","t":13.22,"v":3.25},{"s":"Sim: 1shell","t":13.29,"v":2.6},{"s":"Sim: 1shell","t":13.36,"v":2.9},{"s":"Sim: 1shell","t":13.43,"v":2.5},{"s":"Sim: 1shell","t":13.5,"v":2.88},{"s":"Sim: 1shell","t":13.58,"v":2.6},{"s":"Sim: 1shell","t":13.65,"v":2.4},{"s":"Sim: 1shell","t":13.72,"v":2.9},{"s":"Sim: 1shell","t":13.8,"v":2.45},{"s":"Sim: 1shell","t":13.9,"v":2.1},{"s":"Sim: 1shell","t":14.02,"v":1.94},{"s":"Sim: 1shell","t":14.12,"v":2.2},{"s":"Sim: 1shell","t":14.2,"v":2.13},{"s":"Sim: 1shell","t":14.3,"v":1.7},{"s":"Sim: 1shell","t":14.4,"v":1.5},{"s":"Sim: 1shell","t":14.5,"v":1.12},{"s":"Sim: 1shell","t":14.6,"v":1.2},{"s":"Sim: 1shell","t":14.7,"v":2.13},{"s":"Sim: 1shell","t":14.78,"v":1.8},{"s":"Sim: 1shell","t":14.87,"v":1.56},{"s":"Sim: 1shell","t":14.95,"v":1.3},{"s":"Sim: 1shell","t":15.05,"v":1.4},{"s":"Sim: 1shell","t":15.15,"v":1.2},{"s":"Sim: 1shell","t":15.25,"v":1.3},{"s":"Sim: 1shell","t":15.33,"v":1.08},{"s":"Sim: 1shell","t":15.45,"v":1.05},{"s":"Sim: 1shell","t":15.56,"v":1.17},{"s":"Sim: 1shell","t":15.65,"v":1.3},{"s":"Sim: 1shell","t":15.72,"v":1.0},{"s":"Sim: 1shell","t":15.8,"v":0.6},{"s":"Sim: 1shell","t":15.9,"v":0.4},{"s":"Sim: 1shell","t":16.0,"v":0.7},{"s":"Sim: 1shell","t":16.1,"v":0.5},{"s":"Sim: 1shell","t":16.17,"v":0.79},{"s":"Sim: 1shell","t":16.3,"v":1.12},{"s":"Sim: 1shell","t":16.4,"v":0.6},{"s":"Sim: 1shell","t":16.48,"v":0.4},{"s":"Sim: 1shell","t":16.55,"v":0.6},{"s":"Sim: 1shell","t":16.63,"v":0.74},{"s":"Sim: 1shell","t":16.72,"v":0.3},{"s":"Sim: 1shell","t":16.79,"v":0.0},{"s":"Sim: 1shell","t":16.87,"v":0.15},{"s":"Sim: 1shell","t":16.94,"v":0.21},{"s":"Sim: 1shell","t":17.02,"v":0.05},{"s":"Sim: 1shell","t":17.1,"v":0.12},{"s":"Sim: 1shell","t":17.18,"v":0.3},{"s":"Sim: 1shell","t":17.25,"v":0.36},{"s":"Sim: 1shell","t":17.32,"v":0.07},{"s":"Sim: 1shell","t":17.4,"v":0.1},{"s":"Sim: 1shell","t":17.5,"v":0.3},{"s":"Sim: 1shell","t":17.6,"v":0.6},{"s":"Sim: 1shell","t":17.68,"v":0.3},{"s":"Sim: 1shell","t":17.78,"v":0.12},{"s":"Sim: 1shell","t":17.85,"v":0.3},{"s":"Sim: 1shell","t":17.9,"v":0.36},{"s":"Sim: 1shell","t":17.98,"v":0}
]
},
"vconcat": [
{
 "width": 528, "height": 422,
 "data": {"name": "top"},
 "title": {"text": "a)\u00a0 6.28 m/s plate impact", "orient": "bottom", "font": "Liberation Serif", "fontSize": 19, "fontWeight": "normal", "anchor": "middle", "dx": -50, "offset": 11, "color": "#000"},
 "mark": {"type": "line", "clip": true},
 "encoding": {
  "x": {"field": "t", "type": "quantitative", "scale": {"domain": [0, 8], "nice": false},
   "axis": {"title": "Time\u00a0\u00a0 [ms]", "values": [0,0.2,0.4,0.6,0.8,1,1.2,1.4,1.6,1.8,2,2.2,2.4,2.6,2.8,3,3.2,3.4,3.6,3.8,4,4.2,4.4,4.6,4.8,5,5.2,5.4,5.6,5.8,6,6.2,6.4,6.6,6.8,7,7.2,7.4,7.6,7.8,8],
    "labelExpr": "datum.value % 1 === 0 ? format(datum.value, 'd') : ''",
    "grid": true, "gridOpacity": {"condition": {"test": "datum.value % 1 === 0", "value": 1}, "value": 0},
    "tickSize": {"condition": {"test": "datum.value % 1 === 0", "value": 7}, "value": 4},
    "labelPadding": 4, "titlePadding": 7}},
  "y": {"field": "v", "type": "quantitative", "scale": {"domain": [0, 12], "nice": false},
   "axis": {"title": "Load\u00a0\u00a0 [kN]", "values": [0,0.4,0.8,1.2,1.6,2,2.4,2.8,3.2,3.6,4,4.4,4.8,5.2,5.6,6,6.4,6.8,7.2,7.6,8,8.4,8.8,9.2,9.6,10,10.4,10.8,11.2,11.6,12],
    "labelExpr": "datum.value % 2 === 0 ? replace(format(datum.value, '.1f'), '.', ',') : ''",
    "grid": true, "gridOpacity": {"condition": {"test": "datum.value % 2 === 0", "value": 1}, "value": 0},
    "tickSize": {"condition": {"test": "datum.value % 2 === 0", "value": 6}, "value": 4},
    "labelPadding": 4, "titlePadding": 10}},
  "color": {"field": "s", "type": "nominal", "scale": {"domain": ["Experiment", "Sim: 1shell", "Sim: 4shell"], "range": ["#222222", "#000000", "#a8a8a8"]}, "legend": {"orient": "top-right", "offset": 0}},
  "strokeWidth": {"field": "s", "type": "ordinal", "scale": {"domain": ["Experiment", "Sim: 1shell", "Sim: 4shell"], "range": [1.5, 2.0, 1.2]}},
  "strokeDash": {"field": "s", "type": "nominal", "scale": {"domain": ["Experiment", "Sim: 1shell", "Sim: 4shell"], "range": [[1, 0], [1, 0], [2, 1.5]]}}
 }
},
{
 "width": 522, "height": 417,
 "data": {"name": "bot"},
 "title": {"text": "b)\u00a0 2.33 m/s plate impact", "orient": "bottom", "font": "Liberation Serif", "fontSize": 19, "fontWeight": "normal", "anchor": "middle", "dx": -48, "offset": 11, "color": "#000"},
 "mark": {"type": "line", "clip": true},
 "encoding": {
  "x": {"field": "t", "type": "quantitative", "scale": {"domain": [0, 24], "nice": false},
   "axis": {"title": "Time\u00a0\u00a0 [ms]", "values": [0,0.8,1.6,2.4,3.2,4,4.8,5.6,6.4,7.2,8,8.8,9.6,10.4,11.2,12,12.8,13.6,14.4,15.2,16,16.8,17.6,18.4,19.2,20,20.8,21.6,22.4,23.2,24],
    "labelExpr": "datum.value % 4 === 0 ? format(datum.value, 'd') : ''",
    "grid": true, "gridOpacity": {"condition": {"test": "datum.value % 4 === 0", "value": 1}, "value": 0},
    "tickSize": {"condition": {"test": "datum.value % 4 === 0", "value": 7}, "value": 4},
    "labelPadding": 4, "titlePadding": 7}},
  "y": {"field": "v", "type": "quantitative", "scale": {"domain": [0, 12], "nice": false},
   "axis": {"title": "Load\u00a0\u00a0 [kN]", "values": [0,0.4,0.8,1.2,1.6,2,2.4,2.8,3.2,3.6,4,4.4,4.8,5.2,5.6,6,6.4,6.8,7.2,7.6,8,8.4,8.8,9.2,9.6,10,10.4,10.8,11.2,11.6,12],
    "labelExpr": "datum.value % 2 === 0 ? format(datum.value, 'd') : ''",
    "grid": true, "gridOpacity": {"condition": {"test": "datum.value % 2 === 0", "value": 1}, "value": 0},
    "tickSize": {"condition": {"test": "datum.value % 2 === 0", "value": 6}, "value": 4},
    "labelPadding": 4, "titlePadding": 10}},
  "color": {"field": "s", "type": "nominal", "scale": {"domain": ["Experiment", "Sim: 1shell", "Sim: 4shell"], "range": ["#222222", "#000000", "#a8a8a8"]}, "legend": {"orient": "top-right", "offset": 0}},
  "strokeWidth": {"field": "s", "type": "ordinal", "scale": {"domain": ["Experiment", "Sim: 1shell", "Sim: 4shell"], "range": [1.5, 2.0, 1.2]}},
  "strokeDash": {"field": "s", "type": "nominal", "scale": {"domain": ["Experiment", "Sim: 1shell", "Sim: 4shell"], "range": [[1, 0], [1, 0], [2, 1.5]]}}
 }
}
],
"resolve": {"scale": {"color": "independent", "strokeWidth": "independent", "strokeDash": "independent"}, "legend": {"color": "independent", "strokeWidth": "independent", "strokeDash": "independent"}}
}
